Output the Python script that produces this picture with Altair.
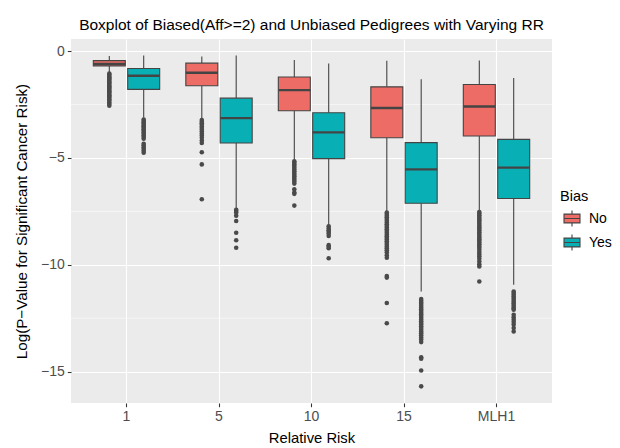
import altair as alt
import pandas as pd

categories = ["1", "5", "10", "15", "MLH1"]
bias_levels = ["No", "Yes"]
fill_colors = ["#EE6C66", "#08B0B6"]

# box statistics per category, Bias = No
no_upper = [-0.23, -0.25, -0.41, -0.45, -0.44]
no_q3 = [-0.44, -0.56, -1.21, -1.67, -1.56]
no_median = [-0.59, -1.01, -1.82, -2.66, -2.59]
no_q1 = [-0.69, -1.62, -2.79, -4.05, -3.97]
no_lower = [-0.98, -3.15, -5.09, -7.50, -7.43]

# box statistics per category, Bias = Yes
yes_upper = [-0.20, -0.20, -0.58, -1.31, -1.25]
yes_q3 = [-0.81, -2.20, -2.88, -4.28, -4.13]
yes_median = [-1.15, -3.13, -3.80, -5.53, -5.45]
yes_q1 = [-1.79, -4.30, -5.03, -7.12, -6.90]
yes_lower = [-3.12, -7.35, -8.13, -11.25, -10.93]

# outliers
out_1_no = [-1.05, -1.1, -1.16, -1.22, -1.28, -1.34, -1.4, -1.46, -1.52, -1.58, -1.64, -1.7,
            -1.76, -1.82, -1.88, -1.94, -2.0, -2.06, -2.12, -2.18, -2.25, -2.32, -2.4, -2.47, -2.55]
out_1_yes = [-3.2, -3.27, -3.33, -3.4, -3.46, -3.52, -3.58, -3.65, -3.72, -3.8, -3.88, -3.95,
             -4.02, -4.1, -4.33, -4.4, -4.5, -4.58, -4.66, -4.75]
out_5_no = [-3.22, -3.3, -3.37, -3.45, -3.53, -3.6, -3.68, -3.76, -3.85, -3.95, -4.05, -4.18,
            -4.3, -4.73, -5.3, -6.93]
out_5_yes = [-7.42, -7.48, -7.55, -7.7, -7.95, -8.5, -8.85, -9.2]
out_10_no = [-5.15, -5.22, -5.3, -5.38, -5.46, -5.54, -5.62, -5.7, -5.78, -5.86, -5.94, -6.02,
             -6.1, -6.2, -6.46, -6.62, -6.68, -7.23]
out_10_yes = [-8.2, -8.3, -8.38, -8.46, -8.55, -8.65, -9.08, -9.15, -9.22, -9.69]
out_15_no = [-7.55, -7.62, -7.7, -7.78, -7.86, -7.94, -8.02, -8.1, -8.18, -8.26, -8.34, -8.42,
             -8.5, -8.58, -8.66, -8.74, -8.82, -8.9, -8.98, -9.06, -9.14, -9.22, -9.32, -9.42,
             -9.55, -9.67, -10.53, -10.6, -11.79, -12.74]
out_15_yes = [-11.6, -11.68, -11.76, -11.84, -11.92, -12.0, -12.08, -12.16, -12.24, -12.32, -12.4,
              -12.48, -12.56, -12.64, -12.72, -12.8, -12.88, -12.96, -13.04, -13.12, -13.2, -13.3,
              -13.4, -13.5, -13.62, -14.33, -14.4, -14.95, -15.69]
out_mlh1_no = [-7.53, -7.6, -7.68, -7.76, -7.84, -7.92, -8.0, -8.08, -8.16, -8.24, -8.32, -8.4,
               -8.48, -8.56, -8.64, -8.72, -8.8, -8.88, -8.96, -9.04, -9.12, -9.2, -9.3, -9.4,
               -9.5, -9.6, -9.72, -9.85, -9.98, -10.08, -10.78]
out_mlh1_yes = [-11.25, -11.32, -11.4, -11.48, -11.56, -11.64, -11.72, -11.8, -11.88, -11.96,
                -12.04, -12.1, -12.34, -12.46, -12.57, -12.68, -12.8, -12.96, -13.12]

y_ticks = [-15, -10, -5, 0]
y_minor = [-12.5, -7.5, -2.5]
y_domain = [-16.47, 0.57]

# ---- tables
rows = []
for i, c in enumerate(categories):
    rows.append(dict(rr=c, bias="No", lower=no_lower[i], q1=no_q1[i], median=no_median[i],
                     q3=no_q3[i], upper=no_upper[i]))
    rows.append(dict(rr=c, bias="Yes", lower=yes_lower[i], q1=yes_q1[i], median=yes_median[i],
                     q3=yes_q3[i], upper=yes_upper[i]))
boxes = pd.DataFrame(rows)

out_lists = {
    ("1", "No"): out_1_no, ("1", "Yes"): out_1_yes,
    ("5", "No"): out_5_no, ("5", "Yes"): out_5_yes,
    ("10", "No"): out_10_no, ("10", "Yes"): out_10_yes,
    ("15", "No"): out_15_no, ("15", "Yes"): out_15_yes,
    ("MLH1", "No"): out_mlh1_no, ("MLH1", "Yes"): out_mlh1_yes,
}
orows = []
for (c, b), vals in out_lists.items():
    for v in vals:
        orows.append(dict(rr=c, bias=b, value=v))
outliers = pd.DataFrame(orows)
minor = pd.DataFrame({"v": y_minor})

FONT = "Liberation Sans"
EDGE = "#444444"

xenc = alt.X("rr:N", sort=categories,
             scale=alt.Scale(paddingInner=0, paddingOuter=0.1),
             axis=alt.Axis(title="Relative Risk", labelAngle=0, bandPosition=0.5,
                           titlePadding=7, labelPadding=3))
xoff = alt.XOffset("bias:N", sort=bias_levels,
                   scale=alt.Scale(paddingInner=0.07, paddingOuter=0.38))
yscale = alt.Scale(domain=y_domain, nice=False, zero=False)
yaxis = alt.Axis(title="Log(P\u2212Value for Significant Cancer Risk)", values=y_ticks,
                 format="d", titlePadding=11, labelPadding=3, titleFontSize=15.2)

minor_grid = alt.Chart(minor).mark_rule(color="white", strokeWidth=0.55).encode(
    y=alt.Y("v:Q", scale=yscale, axis=yaxis)
)

whisk_hi = alt.Chart(boxes).mark_rule(color=EDGE, strokeWidth=1.1).encode(
    x=xenc, xOffset=xoff,
    y=alt.Y("q3:Q", scale=yscale, axis=yaxis), y2="upper:Q"
)
whisk_lo = alt.Chart(boxes).mark_rule(color=EDGE, strokeWidth=1.1).encode(
    x=xenc, xOffset=xoff,
    y=alt.Y("lower:Q", scale=yscale, axis=yaxis), y2="q1:Q"
)

legend_symbol = "M-1,-0.55H1V0.55H-1Z M-1,0H1 M0,-0.55V-1 M0,0.55V1"

box = alt.Chart(boxes).mark_bar(stroke=EDGE, strokeWidth=1.1).encode(
    x=xenc, xOffset=xoff,
    y=alt.Y("q1:Q", scale=yscale, axis=yaxis), y2="q3:Q",
    fill=alt.Fill("bias:N", sort=bias_levels,
                  scale=alt.Scale(domain=bias_levels, range=fill_colors),
                  legend=alt.Legend(title="Bias", orient="none", legendX=489, legendY=151,
                                    symbolType=legend_symbol, symbolSize=256,
                                    symbolStrokeColor=EDGE, symbolStrokeWidth=1.1,
                                    symbolOffset=3, labelOffset=8, rowPadding=2,
                                    titlePadding=5, padding=0))
)

med = alt.Chart(boxes).mark_tick(color=EDGE, size=32, thickness=2.3, orient="horizontal",
                                 opacity=1).encode(
    x=xenc, xOffset=xoff,
    y=alt.Y("median:Q", scale=yscale, axis=yaxis)
)

pts = alt.Chart(outliers).mark_circle(color="#4a4a4a", size=21, opacity=1).encode(
    x=xenc, xOffset=xoff,
    y=alt.Y("value:Q", scale=yscale, axis=yaxis)
)

chart = alt.layer(minor_grid, whisk_hi, whisk_lo, box, med, pts).properties(
    width=481, height=364,
    title=alt.TitleParams("Boxplot of Biased(Aff>=2) and Unbiased Pedigrees with Varying RR",
                          fontSize=15.5, font=FONT, fontWeight="normal", color="black",
                          anchor="middle", frame="group", baseline="top", offset=6),
    autosize=alt.AutoSizeParams(type="none"),
    padding={"left": 63, "top": 31, "right": 60, "bottom": 45},
).configure(
    font=FONT,
    background="white",
).configure_view(
    fill="#EBEBEB", stroke=None,
).configure_axis(
    domain=False, grid=True, gridColor="white", gridWidth=1.1,
    tickColor="#333333", tickSize=3.7, tickWidth=1.07,
    labelColor="#4D4D4D", labelFontSize=14, labelFont=FONT,
    titleColor="black", titleFontSize=14.8, titleFontWeight="normal", titleFont=FONT,
).configure_legend(
    titleFontSize=14.5, titleFontWeight="normal", titleColor="black", titleFont=FONT,
    labelFontSize=14, labelColor="black", labelFont=FONT,
)

chart.save("out.html", embed_options={"renderer": "svg", "actions": False})
